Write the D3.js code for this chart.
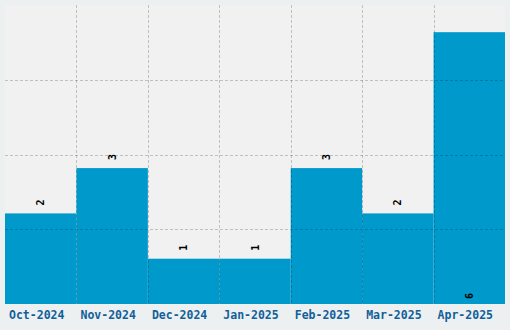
<!DOCTYPE html>
<html>
<head>
<meta charset="utf-8">
<script src="https://cdn.jsdelivr.net/npm/d3@7/dist/d3.min.js"></script>
<style>
  html, body { margin: 0; padding: 0; background: #edf0f1; }
  svg { display: block; }
</style>
</head>
<body>
<svg id="chart"></svg>
<script>
(function () {
    const WIDTH = 510;
    const HEIGHT = 330;

    const months = ['Oct-2024', 'Nov-2024', 'Dec-2024', 'Jan-2025', 'Feb-2025', 'Mar-2025', 'Apr-2025'];
    const counts = [2, 3, 1, 1, 3, 2, 6];

    const BAR_COLOR = '#0099cc';
    const margin = { top: 5, right: 5, bottom: 26, left: 5 };
    const innerW = WIDTH - margin.left - margin.right;
    const innerH = HEIGHT - margin.top - margin.bottom;

    const svg = d3.select('#chart')
        .attr('width', WIDTH)
        .attr('height', HEIGHT);

    const g = svg.append('g')
        .attr('transform', `translate(${margin.left},${margin.top})`);

    const x = d3.scaleBand()
        .domain(months)
        .range([0, innerW])
        .padding(0);

    const y = d3.scaleLinear()
        .domain([0, d3.max(counts) * 1.1])
        .range([innerH, 0]);

    g.append('rect')
        .attr('width', innerW)
        .attr('height', innerH)
        .attr('fill', '#f1f1f1');

    g.selectAll('rect.bar')
        .data(months)
        .join('rect')
        .attr('class', 'bar')
        .attr('x', d => x(d))
        .attr('width', x.bandwidth())
        .attr('y', (d, i) => y(counts[i]))
        .attr('height', (d, i) => innerH - y(counts[i]))
        .attr('fill', BAR_COLOR);

    // grid drawn over the bars, horizontal at quarters of the height
    const grid = g.append('g')
        .attr('stroke', '#000')
        .attr('stroke-opacity', 0.2)
        .attr('stroke-dasharray', '3,2')
        .attr('stroke-width', 1);

    grid.selectAll('line.v')
        .data(months.slice(1))
        .join('line')
        .attr('class', 'v')
        .attr('x1', d => Math.round(x(d)) + 0.5)
        .attr('x2', d => Math.round(x(d)) + 0.5)
        .attr('y1', 0)
        .attr('y2', innerH);

    const yMax = y.domain()[1];
    grid.selectAll('line.h')
        .data([0.25, 0.5, 0.75].map(f => yMax * f))
        .join('line')
        .attr('class', 'h')
        .attr('x1', 0)
        .attr('x2', innerW)
        .attr('y1', d => Math.round(y(d)) + 0.5)
        .attr('y2', d => Math.round(y(d)) + 0.5);

    // value labels, rotated; the tallest bar gets its label inside at the bottom
    const maxCount = d3.max(counts);
    g.selectAll('text.val')
        .data(months)
        .join('text')
        .attr('class', 'val')
        .attr('transform', (d, i) => {
            const cx = x(d) + x.bandwidth() / 2;
            const cy = counts[i] === maxCount ? innerH - 8 : y(counts[i]) - 11;
            return `translate(${cx},${cy}) rotate(-90)`;
        })
        .attr('text-anchor', 'middle')
        .attr('dy', '0.35em')
        .attr('font-family', 'DejaVu Sans Mono, monospace')
        .attr('font-weight', 'bold')
        .attr('font-size', 10)
        .attr('fill', '#000')
        .text((d, i) => counts[i]);

    const xAxis = g.append('g')
        .attr('transform', `translate(-4,${innerH})`)
        .call(d3.axisBottom(x).tickSize(0).tickPadding(7));

    xAxis.select('.domain').remove();
    xAxis.selectAll('text')
        .attr('font-family', 'DejaVu Sans Mono, monospace')
        .attr('font-weight', 'bold')
        .attr('font-size', 11.5)
        .attr('fill', '#11609a');
})();
</script>
</body>
</html>
